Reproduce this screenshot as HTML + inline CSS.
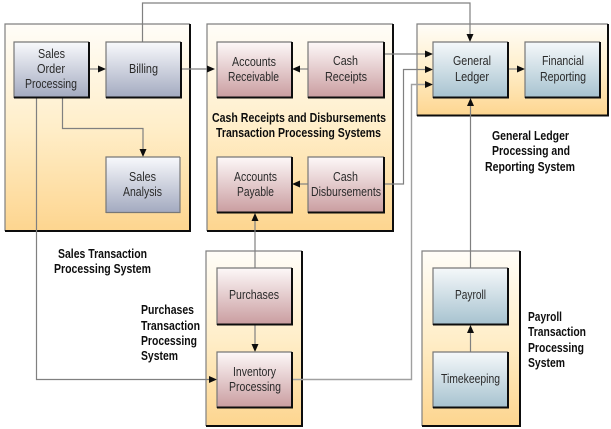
<!DOCTYPE html>
<html><head><meta charset="utf-8"><style>
html,body{margin:0;padding:0;background:#fff;width:611px;height:429px;overflow:hidden}
svg{display:block}
text{font-family:"Liberation Sans",sans-serif;font-size:12.5px;fill:#2a2a2a}
.b text{font-weight:bold;font-size:12.5px;fill:#111}
.l{fill:none;stroke:#777;stroke-width:1.2}
.e{fill:none;stroke:#111;stroke-width:2}
.t{fill:none;stroke:#808080;stroke-width:1.2}
.g{fill:none;stroke:#a0a0a0;stroke-width:1.4}
</style></head><body>
<svg width="611" height="429" viewBox="0 0 611 429" xmlns="http://www.w3.org/2000/svg">
<defs>
<linearGradient id="p" x1="0" y1="0" x2="0" y2="1"><stop offset="0" stop-color="#fffdf8"/><stop offset=".5" stop-color="#ffeec9"/><stop offset="1" stop-color="#fdd58f"/></linearGradient>
<linearGradient id="bl" x1="0" y1="0" x2="0" y2="1"><stop offset="0" stop-color="#f8f9fc"/><stop offset="1" stop-color="#a2a9bf"/></linearGradient>
<linearGradient id="rd" x1="0" y1="0" x2="0" y2="1"><stop offset="0" stop-color="#fdf8f8"/><stop offset="1" stop-color="#c99c9f"/></linearGradient>
<linearGradient id="tl" x1="0" y1="0" x2="0" y2="1"><stop offset="0" stop-color="#f5f8fa"/><stop offset="1" stop-color="#a6c2cf"/></linearGradient>
<filter id="s" filterUnits="userSpaceOnUse" x="0" y="0" width="611" height="429"><feGaussianBlur stdDeviation="0.35"/></filter>
</defs>
<g filter="url(#s)">
<rect x="0" y="0" width="611" height="429" fill="#fff"/>
<!-- panels -->
<g>
<rect x="5" y="24" width="185" height="207" fill="url(#p)"/><path class="t" d="M5 231V24H190"/><path class="e" d="M190 24V231H5"/>
<rect x="207" y="24" width="186" height="207" fill="url(#p)"/><path class="t" d="M207 231V24H393"/><path class="e" d="M393 24V231H207"/>
<rect x="417" y="24" width="191" height="92" fill="url(#p)"/><path class="t" d="M417 116V24H608"/><path class="e" d="M608 24V115.500H417"/>
<rect x="206" y="251" width="96" height="175" fill="url(#p)"/><path class="t" d="M206 426V251H302"/><path class="e" d="M302 251V426H206"/>
<rect x="422" y="251" width="98" height="175" fill="url(#p)"/><path class="t" d="M422 426V251H520"/><path class="e" d="M520 251V426H422"/>
</g>
<!-- connectors -->
<g>
<path class="t" d="M142.500 42V3H470V36"/>
<path class="t" d="M89 69H100"/>
<path class="t" d="M181 69H209"/>
<path class="t" d="M62.500 98V128.500H143V151"/>
<path class="t" d="M36.500 98V379.500H211"/>
<path class="t" d="M308 69H298"/>
<path class="t" d="M384 54H427"/>
<path class="t" d="M384 184H403.500V69.500H427"/>
<path class="g" d="M292 379.500H411.500V84.500H427"/>
<path class="t" d="M308 184H298"/>
<path class="t" d="M255 268V219"/>
<path class="t" d="M255 325V346"/>
<path class="t" d="M470.500 268V104"/>
<path class="t" d="M470.500 352V331"/>
<path class="t" d="M508 69H519"/>
</g>
<g fill="#111">
<path d="M106 69l-8-3.500v7z"/>
<path d="M215 69l-8-3.500v7z"/>
<path d="M143 157l-3.500-8h7z"/>
<path d="M470 42l-3.500-8h7z"/>
<path d="M292 69l8-3.500v7z"/>
<path d="M433 54l-8-3.500v7z"/>
<path d="M433 69.500l-8-3.500v7z"/>
<path d="M433 84.500l-8-3.500v7z"/>
<path d="M525 69l-8-3.500v7z"/>
<path d="M292 184l8-3.500v7z"/>
<path d="M255 213l-3.500 8h7z"/>
<path d="M255 352l-3.500-8h7z"/>
<path d="M217 379.500l-8-3.500v7z"/>
<path d="M470.500 98l-3.500 8h7z"/>
<path d="M470.500 325l-3.500 8h7z"/>
</g>
<!-- boxes -->
<g>
<rect x="14" y="42" width="75" height="56" fill="url(#bl)"/><path class="l" d="M14 98V42H89"/><path class="e" d="M89 42V97.500H14"/>
<rect x="106" y="42" width="75" height="56" fill="url(#bl)"/><path class="l" d="M106 98V42H181"/><path class="e" d="M181 42V97.500H106"/>
<rect x="106" y="157" width="74" height="56" fill="url(#bl)"/><path class="l" d="M106 213V157H180"/><path class="l" d="M180 157V212.500H106"/>
<rect x="217" y="42" width="75" height="56" fill="url(#rd)"/><path class="l" d="M217 98V42H292"/><path class="e" d="M292 42V97.500H217"/>
<rect x="308" y="42" width="76" height="56" fill="url(#rd)"/><path class="l" d="M308 98V42H384"/><path class="e" d="M384 42V97.500H308"/>
<rect x="217" y="157" width="75" height="56" fill="url(#rd)"/><path class="l" d="M217 213V157H292"/><path class="e" d="M292 157V212.500H217"/>
<rect x="308" y="157" width="76" height="56" fill="url(#rd)"/><path class="l" d="M308 213V157H384"/><path class="e" d="M384 157V212.500H308"/>
<rect x="217" y="268" width="75" height="57" fill="url(#rd)"/><path class="l" d="M217 325V268H292"/><path class="e" d="M292 268V324.500H217"/>
<rect x="217" y="352" width="75" height="56" fill="url(#rd)"/><path class="l" d="M217 408V352H292"/><path class="e" d="M292 352V407.500H217"/>
<rect x="433" y="42" width="75" height="56" fill="url(#tl)"/><path class="l" d="M433 98V42H508"/><path class="e" d="M508 42V97.500H433"/>
<rect x="525" y="42" width="75" height="56" fill="url(#tl)"/><path class="l" d="M525 98V42H600"/><path class="e" d="M600 42V97.500H525"/>
<rect x="433" y="268" width="75" height="57" fill="url(#tl)"/><path class="l" d="M433 325V268H508"/><path class="e" d="M508 268V324.500H433"/>
<rect x="433" y="352" width="75" height="56" fill="url(#tl)"/><path class="l" d="M433 408V352H508"/><path class="e" d="M508 352V407.500H433"/>
</g>
<!-- box labels -->
<g>
<text x="38" y="58" textLength="27" lengthAdjust="spacingAndGlyphs">Sales</text>
<text x="37" y="73" textLength="28" lengthAdjust="spacingAndGlyphs">Order</text>
<text x="25" y="88" textLength="52" lengthAdjust="spacingAndGlyphs">Processing</text>
<text x="129" y="73" textLength="29" lengthAdjust="spacingAndGlyphs">Billing</text>
<text x="129" y="181" textLength="27" lengthAdjust="spacingAndGlyphs">Sales</text>
<text x="123" y="196" textLength="39" lengthAdjust="spacingAndGlyphs">Analysis</text>
<text x="232" y="66" textLength="44" lengthAdjust="spacingAndGlyphs">Accounts</text>
<text x="228" y="81" textLength="51" lengthAdjust="spacingAndGlyphs">Receivable</text>
<text x="333" y="65" textLength="25" lengthAdjust="spacingAndGlyphs">Cash</text>
<text x="325" y="81" textLength="42" lengthAdjust="spacingAndGlyphs">Receipts</text>
<text x="234" y="181" textLength="43" lengthAdjust="spacingAndGlyphs">Accounts</text>
<text x="237" y="196" textLength="37" lengthAdjust="spacingAndGlyphs">Payable</text>
<text x="333" y="181" textLength="25" lengthAdjust="spacingAndGlyphs">Cash</text>
<text x="311" y="196" textLength="70" lengthAdjust="spacingAndGlyphs">Disbursements</text>
<text x="453" y="65" textLength="38" lengthAdjust="spacingAndGlyphs">General</text>
<text x="455" y="81" textLength="34" lengthAdjust="spacingAndGlyphs">Ledger</text>
<text x="542" y="65" textLength="42" lengthAdjust="spacingAndGlyphs">Financial</text>
<text x="540" y="81" textLength="46" lengthAdjust="spacingAndGlyphs">Reporting</text>
<text x="229" y="299" textLength="50" lengthAdjust="spacingAndGlyphs">Purchases</text>
<text x="233" y="376" textLength="43" lengthAdjust="spacingAndGlyphs">Inventory</text>
<text x="229" y="391" textLength="52" lengthAdjust="spacingAndGlyphs">Processing</text>
<text x="455" y="299" textLength="31" lengthAdjust="spacingAndGlyphs">Payroll</text>
<text x="441" y="383" textLength="59" lengthAdjust="spacingAndGlyphs">Timekeeping</text>
</g>
<!-- captions -->
<g class="b">
<text x="212" y="122" textLength="174" lengthAdjust="spacingAndGlyphs">Cash Receipts and Disbursements</text>
<text x="216" y="137" textLength="165" lengthAdjust="spacingAndGlyphs">Transaction Processing Systems</text>
<text x="58" y="258" textLength="89" lengthAdjust="spacingAndGlyphs">Sales Transaction</text>
<text x="54" y="273" textLength="97" lengthAdjust="spacingAndGlyphs">Processing System</text>
<text x="141" y="314" textLength="53" lengthAdjust="spacingAndGlyphs">Purchases</text>
<text x="141" y="330" textLength="59" lengthAdjust="spacingAndGlyphs">Transaction</text>
<text x="141" y="345" textLength="56" lengthAdjust="spacingAndGlyphs">Processing</text>
<text x="141" y="360" textLength="37" lengthAdjust="spacingAndGlyphs">System</text>
<text x="492" y="140" textLength="77" lengthAdjust="spacingAndGlyphs">General Ledger</text>
<text x="492" y="155" textLength="78" lengthAdjust="spacingAndGlyphs">Processing and</text>
<text x="485" y="171" textLength="90" lengthAdjust="spacingAndGlyphs">Reporting System</text>
<text x="528" y="321" textLength="34" lengthAdjust="spacingAndGlyphs">Payroll</text>
<text x="528" y="336" textLength="58" lengthAdjust="spacingAndGlyphs">Transaction</text>
<text x="528" y="352" textLength="56" lengthAdjust="spacingAndGlyphs">Processing</text>
<text x="528" y="367" textLength="37" lengthAdjust="spacingAndGlyphs">System</text>
</g>
</g>
</svg>
</body></html>
